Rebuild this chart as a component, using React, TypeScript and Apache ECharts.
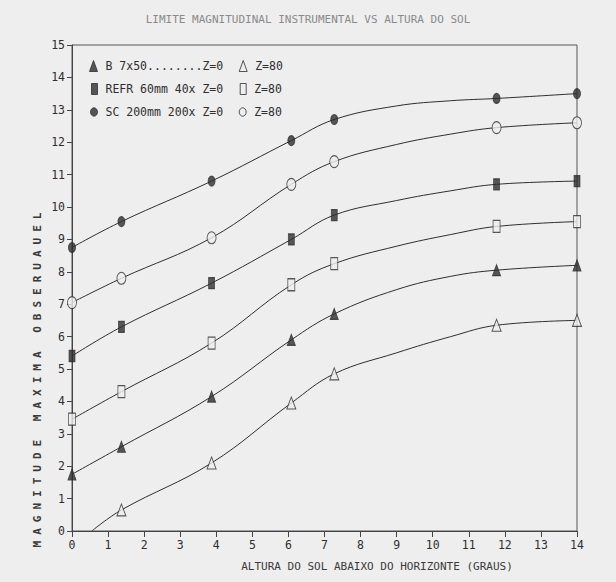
import React, { useEffect, useRef } from "react";
import * as echarts from "echarts";

// ---- data ----
// measured points (markers)
const altitudeDeg = [0, 1.37, 3.87, 6.08, 7.27, 11.77, 14];
const bZ0 = [1.75, 2.6, 4.15, 5.9, 6.7, 8.05, 8.2];
const bZ80 = [null, 0.65, 2.1, 3.95, 4.85, 6.35, 6.5];
const refrZ0 = [5.4, 6.3, 7.65, 9.0, 9.75, 10.7, 10.8];
const refrZ80 = [3.45, 4.3, 5.8, 7.6, 8.25, 9.4, 9.55];
const scZ0 = [8.75, 9.55, 10.8, 12.05, 12.7, 13.35, 13.5];
const scZ80 = [7.05, 7.8, 9.05, 10.7, 11.4, 12.45, 12.6];

// fitted curves read between the last measured points
const curveMidDeg = [9, 10.5];
const bZ0Mid = [7.45, 7.86];
const bZ80Mid = [5.5, 6.0];
const refrZ0Mid = [10.2, 10.5];
const refrZ80Mid = [8.79, 9.15];
const scZ0Mid = [13.12, 13.28];
const scZ80Mid = [11.93, 12.25];
// the B 7x50 Z=80 fitted curve starts on the x axis here
const bZ80CurveStart: [number, number] = [0.55, 0];

const seriesNames = [
  "B 7x50........Z=0",
  "B 7x50 Z=80",
  "REFR 60mm 40x Z=0",
  "REFR 60mm 40x Z=80",
  "SC 200mm 200x Z=0",
  "SC 200mm 200x Z=80",
];
const titleText = "LIMITE MAGNITUDINAL INSTRUMENTAL VS ALTURA DO SOL";
const xName = "ALTURA DO SOL ABAIXO DO HORIZONTE (GRAUS)";
const yName = "MAGNITUDE MAXIMA OBSERUAUEL";

const FONT = '"DejaVu Sans Mono", "Liberation Mono", monospace';
const BG = "#eeeeee";
const INK = "#2e2e2e";
const ELLIPSE =
  "path://M5,0 C7.8,0 10,2.7 10,6 C10,9.3 7.8,12 5,12 C2.2,12 0,9.3 0,6 C0,2.7 2.2,0 5,0 Z";

function pairs(xs: number[], vals: (number | null)[]): [number, number][] {
  const out: [number, number][] = [];
  vals.forEach((v, i) => {
    if (v !== null && v !== undefined) out.push([xs[i], v]);
  });
  return out;
}

const filled = { color: INK, borderColor: INK, borderWidth: 1 };
const open = { color: BG, borderColor: INK, borderWidth: 1 };

const markerDefs = [
  { name: seriesNames[0], vals: bZ0, mid: bZ0Mid, symbol: "triangle", size: [8, 11], style: filled },
  { name: seriesNames[1], vals: bZ80, mid: bZ80Mid, symbol: "triangle", size: [9, 12], style: open },
  { name: seriesNames[2], vals: refrZ0, mid: refrZ0Mid, symbol: "rect", size: [6, 11], style: filled },
  { name: seriesNames[3], vals: refrZ80, mid: refrZ80Mid, symbol: "rect", size: [7, 12], style: open },
  { name: seriesNames[4], vals: scZ0, mid: scZ0Mid, symbol: ELLIPSE, size: [7, 10], style: filled },
  { name: seriesNames[5], vals: scZ80, mid: scZ80Mid, symbol: ELLIPSE, size: [9, 12], style: open },
];

export default function App() {
  const ref = useRef<HTMLDivElement>(null);

  useEffect(() => {
    if (!ref.current) return;
    const chart = echarts.init(ref.current, null, { renderer: "svg" });

    const curveSeries = markerDefs.map((d, i) => {
      const pts = [...pairs(altitudeDeg, d.vals), ...pairs(curveMidDeg, d.mid)];
      if (i === 1) pts.push(bZ80CurveStart);
      pts.sort((a, b) => a[0] - b[0]);
      return {
        type: "line",
        name: "curve " + d.name,
        data: pts,
        smooth: 0.4,
        showSymbol: false,
        symbol: "none",
        silent: true,
        lineStyle: { color: INK, width: 1 },
        z: 2,
      };
    });

    const markerSeries = markerDefs.map((d) => ({
      type: "scatter",
      name: d.name,
      data: pairs(altitudeDeg, d.vals),
      symbol: d.symbol,
      symbolSize: d.size,
      itemStyle: d.style,
      z: 3,
    }));

    const legendRow = (i: number, top: number, icon: string, w: number, h: number, w2: number) => ({
      top,
      left: 92 - w,
      orient: "horizontal",
      itemWidth: w,
      itemHeight: h,
      itemGap: 20 - w2 / 2,
      selectedMode: false,
      textStyle: { fontFamily: FONT, fontSize: 11.5, color: INK, padding: [0, 0, 0, 3] },
      formatter: (n: string) => (n.endsWith("Z=80") ? "Z=80" : n),
      data: [
        { name: seriesNames[i], icon, itemStyle: markerDefs[i].style },
        { name: seriesNames[i + 1], icon, itemStyle: markerDefs[i + 1].style },
      ],
    });

    chart.setOption({
      animation: false,
      backgroundColor: BG,
      title: {
        text: titleText,
        left: "center",
        top: 9,
        textStyle: { fontFamily: FONT, fontSize: 11, fontWeight: "normal", color: "#8a8a8a" },
      },
      legend: [
        legendRow(0, 55, "triangle", 8, 11, 9),
        legendRow(2, 78, "rect", 6, 11, 7),
        legendRow(4, 101, ELLIPSE, 7, 10, 9),
      ],
      grid: {
        left: 72,
        right: 39,
        top: 45,
        bottom: 51,
        show: true,
        borderColor: "#555",
        borderWidth: 1,
        backgroundColor: "transparent",
      },
      xAxis: {
        type: "value",
        min: 0,
        max: 14,
        interval: 1,
        axisLine: { show: true, onZero: false, lineStyle: { color: "#444", width: 1 } },
        axisTick: { show: true, length: 6, lineStyle: { color: "#444" } },
        axisLabel: { fontFamily: FONT, fontSize: 11.5, color: INK, margin: 8 },
        splitLine: { show: false },
      },
      yAxis: {
        type: "value",
        min: 0,
        max: 15,
        interval: 1,
        axisLine: { show: true, onZero: false, lineStyle: { color: "#444", width: 1 } },
        axisTick: { show: true, length: 5, lineStyle: { color: "#444" } },
        axisLabel: {
          fontFamily: FONT,
          fontSize: 11.5,
          color: INK,
          margin: 7,
          verticalAlign: "middle",
          padding: [0, 0, 5, 0],
        },
        splitLine: { show: false },
      },
      graphic: [
        {
          type: "text",
          x: 377,
          y: 566,
          style: {
            text: xName,
            fontFamily: FONT,
            fontSize: 11,
            fill: "#3a3a3a",
            align: "center",
            verticalAlign: "middle",
          },
        },
        {
          type: "text",
          x: 37,
          y: 377,
          rotation: Math.PI / 2,
          style: {
            text: yName,
            fontFamily: FONT,
            fontSize: 11,
            fontWeight: "bold",
            fill: "#3a3a3a",
            align: "center",
            verticalAlign: "middle",
          },
        },
      ],
      series: [...curveSeries, ...markerSeries],
    });

    // spread the vertical axis title like the plotter lettering
    ref.current.querySelectorAll("text").forEach((t) => {
      if (t.textContent === yName) t.setAttribute("letter-spacing", "6");
    });

    return () => chart.dispose();
  }, []);

  return (
    <div
      ref={ref}
      style={{ position: "fixed", left: 0, top: 0, width: 616, height: 582 }}
    />
  );
}
